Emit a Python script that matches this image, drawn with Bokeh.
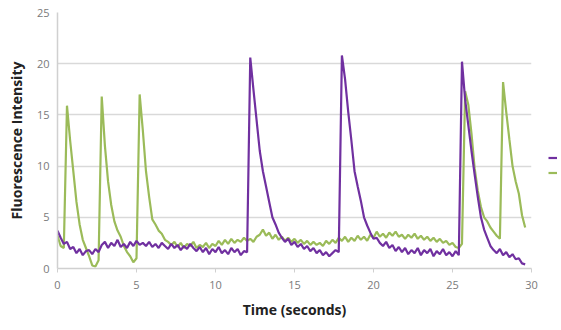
import numpy as np
from bokeh.plotting import figure
from bokeh.models import Legend, LegendItem, Range1d, FixedTicker
from bokeh.embed import file_html
from bokeh.resources import INLINE

# Time axis (seconds), sampled every 0.2 s
time_s = np.round(np.arange(0, 29.61, 0.2), 1)

# Green trace (2-second blocks)
green = [
    3.2, 2.2, 2.0, 15.9, 12.5, 9.5, 6.5, 4.3, 2.8, 2.0,
    1.2, 0.3, 0.2, 0.8, 16.8, 12.0, 8.5, 6.2, 4.6, 3.7,
    3.1, 2.2, 1.6, 1.2, 0.6, 1.0, 17.0, 13.5, 9.5, 7.0,
    4.8, 4.3, 3.7, 3.4, 2.8, 2.6, 2.3, 2.6, 2.1, 2.5,
    2.0, 2.4, 2.2, 2.6, 2.0, 2.3, 2.1, 2.5, 2.0, 2.4,
    2.2, 2.7, 2.3, 2.8, 2.4, 2.9, 2.5, 2.8, 2.6, 3.0,
    2.7, 2.9, 2.6, 3.1, 3.3, 3.8, 3.2, 3.5, 2.9, 3.3,
    2.8, 3.1, 2.7, 3.0, 2.6, 2.9, 2.5, 2.8, 2.4, 2.7,
    2.3, 2.6, 2.3, 2.5, 2.2, 2.7, 2.4, 2.8, 2.5, 3.0,
    2.7, 3.1, 2.6, 3.0, 2.7, 3.2, 2.8, 3.1, 2.7, 3.3,
    3.0, 3.6, 3.1, 3.4, 3.0, 3.5, 3.2, 3.6, 3.1, 3.3,
    2.9, 3.3, 3.0, 3.4, 2.9, 3.2, 2.8, 3.1, 2.7, 3.0,
    2.6, 2.9, 2.5, 2.7, 2.3, 2.5, 2.1, 2.0, 2.4, 17.3,
    16.0, 13.2, 9.8, 7.6, 6.0, 5.0, 4.6, 4.0, 3.6, 3.2,
    2.9, 18.2, 15.3, 12.6, 10.0, 8.5, 7.3, 5.2, 4.0,
]

# Purple trace (2-second blocks)
purple = [
    3.7, 3.0, 2.4, 2.6, 1.9, 2.1, 1.5, 1.9, 1.3, 1.7,
    1.8, 1.4, 1.9, 1.6, 2.3, 2.6, 2.0, 2.5, 2.2, 2.8,
    2.1, 2.4, 2.0, 2.6, 2.2, 2.7, 2.3, 2.5, 2.2, 2.6,
    2.1, 2.4, 2.0, 2.5, 2.2, 1.9, 2.4, 2.0, 2.3, 1.8,
    2.2, 1.9, 2.4, 2.0, 1.7, 2.1, 1.6, 2.0, 1.4, 1.9,
    1.6, 2.1, 1.5, 1.8, 1.4, 2.0, 1.6, 1.9, 1.3, 1.7,
    1.6, 20.6, 17.5, 14.5, 11.5, 9.5, 8.0, 6.5, 5.0, 4.3,
    3.5, 3.0, 2.6, 2.9, 2.3, 2.6, 2.1, 2.4, 1.9, 2.2,
    1.7, 2.0, 1.5, 1.8, 1.3, 1.6, 1.2, 1.5, 1.8, 1.6,
    20.8, 18.5, 15.3, 12.5, 9.5, 8.0, 6.6, 5.0, 4.2, 3.5,
    2.9, 3.0, 2.5, 2.2, 2.6, 2.0, 2.3, 1.7, 2.1, 1.6,
    2.0, 1.4, 1.8, 1.5, 2.0, 1.3, 1.8, 1.5, 1.9, 1.2,
    1.7, 1.4, 1.9, 1.3, 1.6, 1.2, 1.7, 1.3, 20.2, 16.5,
    14.0, 11.5, 9.2, 7.0, 5.0, 3.8, 3.0, 2.2, 1.8, 1.5,
    1.9, 1.3, 1.6, 1.1, 1.4, 0.9, 1.0, 0.5, 0.4,
]

x_ticks = [0, 5, 10, 15, 20, 25, 30]
y_ticks = [0, 5, 10, 15, 20, 25]

p = figure(frame_width=474, frame_height=256, output_backend="svg", toolbar_location=None,
           x_range=Range1d(0, 30), y_range=Range1d(0, 25),
           min_border_left=57, min_border_right=30, min_border_top=12,
           min_border_bottom=62)
p.background_fill_color = "white"
p.border_fill_color = "white"
p.outline_line_color = None

r_green = p.line(time_s, green, line_color="#9bbb59", line_width=2.2)
r_purple = p.line(time_s, purple, line_color="#7030a0", line_width=2.2)

p.xaxis.ticker = FixedTicker(ticks=x_ticks)
p.yaxis.ticker = FixedTicker(ticks=y_ticks)
for ax in (p.xaxis[0], p.yaxis[0]):
    ax.minor_tick_line_color = None
    ax.major_tick_in = 0
    ax.major_tick_out = 4
    ax.major_tick_line_color = "#d0d0d0"
    ax.axis_line_color = "#d0d0d0"
    ax.axis_line_width = 1.5
    ax.major_label_text_color = "#7a7a7a"
    ax.major_label_text_font = "Open Sans"
    ax.major_label_text_font_size = "11px"
    ax.axis_label_text_font = "Open Sans"
    ax.axis_label_text_font_style = "bold"
    ax.axis_label_text_color = "#222222"
    ax.axis_label_text_font_size = "14px"
p.yaxis[0].major_tick_out = 0
p.xaxis.axis_label = "Time (seconds)"
p.yaxis.axis_label = "Fluorescence Intensity"
p.xaxis.major_label_standoff = 8
p.xaxis.axis_label_standoff = 8
p.yaxis.major_label_standoff = 8
p.yaxis.axis_label_standoff = 8

p.xgrid.grid_line_color = None
p.ygrid.grid_line_color = "#d9d9d9"
p.ygrid.grid_line_width = 1.5

legend = Legend(items=[LegendItem(label=" ", renderers=[r_purple]),
                       LegendItem(label=" ", renderers=[r_green])],
                location=(17, 88), padding=0, margin=0, spacing=0,
                glyph_width=9, glyph_height=15, label_standoff=0,
                label_width=1, label_text_font_size="1px",
                border_line_color=None, background_fill_alpha=0)
p.add_layout(legend, "right")

open("out.html", "w").write(file_html(p, INLINE))
